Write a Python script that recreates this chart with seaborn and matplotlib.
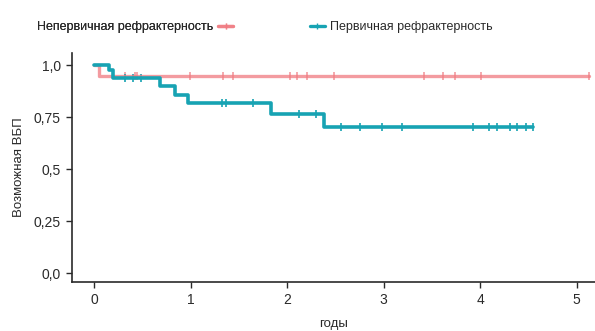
import numpy as np
import pandas as pd
import matplotlib
matplotlib.use("Agg")
import matplotlib.pyplot as plt
import seaborn as sns
from matplotlib.lines import Line2D

sns.set_theme(style="ticks")
plt.rcParams['font.family'] = ['Liberation Sans', 'DejaVu Sans']

# Data
red_times = [0.0, 0.05, 5.13]
red_surv = [1.0, 0.948, 0.948]
red_censor = [0.32, 0.42, 0.44, 0.99, 1.33, 1.44, 2.03, 2.10, 2.21, 2.49, 3.42, 3.61, 3.74, 4.01, 5.13]

teal_times = [0.0, 0.15, 0.20, 0.68, 0.84, 0.97, 1.83, 2.38, 4.55]
teal_surv = [1.0, 0.977, 0.94, 0.898, 0.857, 0.817, 0.764, 0.70, 0.70]
teal_censor = [0.32, 0.40, 0.49, 1.32, 1.37, 1.65, 2.12, 2.30, 2.56, 2.75, 2.98, 3.19,
               3.93, 4.09, 4.17, 4.31, 4.38, 4.47, 4.55]

label_red = "Непервичная рефрактерность"
label_teal = "Первичная рефрактерность"
xticks = [0, 1, 2, 3, 4, 5]
yticks = [0.0, 0.25, 0.5, 0.75, 1.0]
ytick_labels = ["0,0", "0,25", "0,5", "0,75", "1,0"]

c_red = "#f07a80"
c_teal = "#17a3b3"
c_text = "#2a2a2a"
fs = 9.5


def step_value(times, surv, t):
    idx = np.searchsorted(times, t, side="right") - 1
    return surv[max(idx, 0)]


fig = plt.figure(figsize=(5.95, 3.31), dpi=100)
ax = fig.add_axes([0.121, 0.148, 0.879, 0.692])

df_red = pd.DataFrame({"t": red_times, "s": red_surv})
df_teal = pd.DataFrame({"t": teal_times, "s": teal_surv})
sns.lineplot(data=df_red, x="t", y="s", ax=ax, color=c_red, lw=2.4, alpha=0.75,
             drawstyle="steps-post", estimator=None, sort=False)
sns.lineplot(data=df_teal, x="t", y="s", ax=ax, color=c_teal, lw=2.6,
             drawstyle="steps-post", estimator=None, sort=False)

cr = pd.DataFrame({"t": red_censor, "s": [step_value(red_times, red_surv, t) for t in red_censor]})
ct = pd.DataFrame({"t": teal_censor, "s": [step_value(teal_times, teal_surv, t) for t in teal_censor]})
sns.scatterplot(data=cr, x="t", y="s", ax=ax, marker="|", s=30, color=c_red, alpha=0.75, linewidth=1.2)
sns.scatterplot(data=ct, x="t", y="s", ax=ax, marker="|", s=30, color=c_teal, linewidth=1.2)

ax.set_xlim(-0.23, 5.19)
ax.set_ylim(-0.043, 1.058)
ax.set_xticks(xticks)
ax.set_yticks(yticks)
ax.set_yticklabels(ytick_labels)
ax.tick_params(labelsize=fs + 0.5, length=4, width=1, color=c_text, labelcolor=c_text, pad=4)
ax.set_xlabel("годы", fontsize=fs, color=c_text, labelpad=8)
ax.set_ylabel("Возможная ВБП", fontsize=fs, color=c_text, labelpad=6)
for sp in ["left", "bottom"]:
    ax.spines[sp].set_color(c_text)
    ax.spines[sp].set_linewidth(1.2)
sns.despine(ax=ax)

h_red = Line2D([], [], color=c_red, lw=2.4, alpha=0.75, marker="|", markersize=5)
h_teal = Line2D([], [], color=c_teal, lw=2.4, marker="|", markersize=5)
leg1 = fig.legend([h_red], [label_red], loc="center left", bbox_to_anchor=(0.062, 0.918),
                  frameon=False, markerfirst=False, fontsize=9, handlelength=1.2,
                  handletextpad=0.4, borderpad=0, borderaxespad=0, labelcolor=c_text)
fig.add_artist(leg1)
fig.legend([h_teal], [label_teal], loc="center left", bbox_to_anchor=(0.521, 0.918),
           frameon=False, markerfirst=True, fontsize=9, handlelength=1.2,
           handletextpad=0.4, borderpad=0, borderaxespad=0, labelcolor=c_text)

fig.savefig("out.png", dpi=100)
